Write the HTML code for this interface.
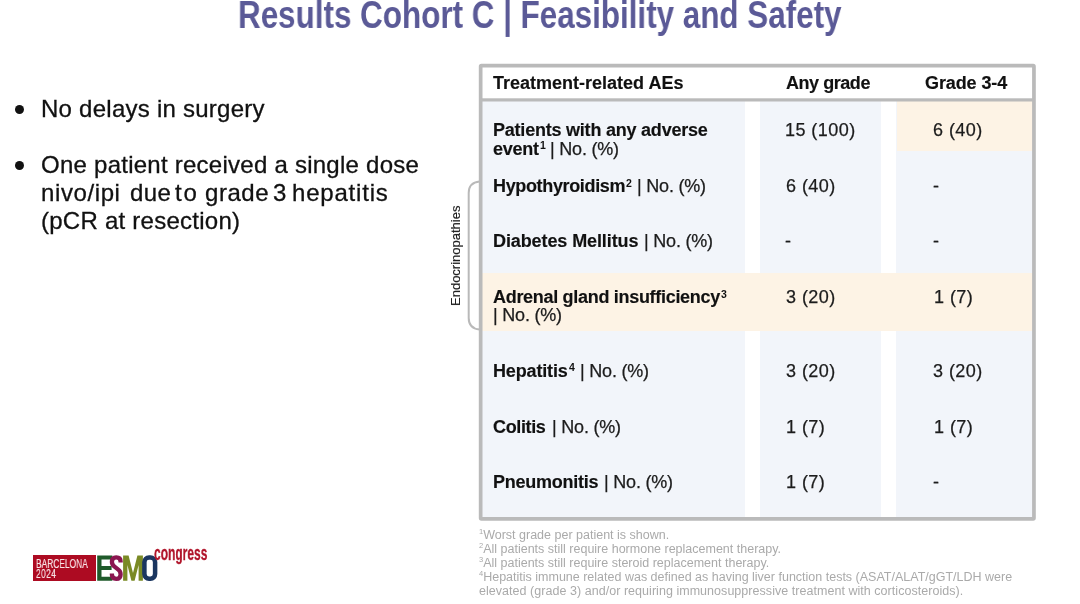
<!DOCTYPE html>
<html><head><meta charset="utf-8">
<style>
html,body{margin:0;padding:0;background:#fff;}
body{width:1080px;height:604px;position:relative;overflow:hidden;font-family:"Liberation Sans",sans-serif;}
.abs{position:absolute;}
.abs,.t,.s,.fn{will-change:transform;}
#title{left:238px;top:-5.7px;font-size:38px;font-weight:bold;color:#5b5a97;white-space:nowrap;transform-origin:0 0;transform:scaleX(0.826);}
.bul{font-size:24px;color:#111;-webkit-text-stroke:0.3px #111;line-height:28px;white-space:nowrap;letter-spacing:0.25px;}
.dot{width:9px;height:9px;border-radius:50%;background:#111;}
.c{position:absolute;background:#f2f5fa;}
.o{position:absolute;background:#fdf3e5;}
.t{position:absolute;font-size:18px;color:#1c1c1c;-webkit-text-stroke:0.25px #1c1c1c;white-space:nowrap;line-height:18px;}
.b{font-weight:bold;color:#111;-webkit-text-stroke:0.15px #111;}
.s{position:absolute;font-size:10.5px;font-weight:bold;color:#111;line-height:10px;}
.fn{position:absolute;left:479px;font-size:12.5px;color:#aaaaaa;white-space:nowrap;line-height:14px;margin-top:0.5px;}
.fn i{font-style:normal;font-size:7.5px;position:relative;top:-4.6px;}
</style></head><body>
<div id="title" class="abs">Results Cohort C | Feasibility and Safety</div>

<div class="abs dot" style="left:14.5px;top:105px"></div>
<div class="abs bul" style="left:40.5px;top:95.2px">No delays in surgery</div>
<div class="abs dot" style="left:14.5px;top:161px"></div>
<div class="abs bul" style="left:40.5px;top:151px">One patient received a single dose<br>&nbsp;<br>(pCR at resection)</div>
<div class="abs bul" style="left:40.6px;top:179px;letter-spacing:0.6px">nivo/ipi</div>
<div class="abs bul" style="left:130px;top:179px;letter-spacing:0.4px">due</div>
<div class="abs bul" style="left:175.2px;top:179px;letter-spacing:1.8px">to</div>
<div class="abs bul" style="left:205px;top:179px;letter-spacing:0.55px">grade</div>
<div class="abs bul" style="left:273.3px;top:179px">3</div>
<div class="abs bul" style="left:292.4px;top:179px;letter-spacing:0.8px">hepatitis</div>

<!-- table -->
<div class="c" style="left:481px;top:100px;width:264.4px;height:418px"></div>
<div class="c" style="left:760.2px;top:100px;width:120.6px;height:418px"></div>
<div class="c" style="left:896.4px;top:100px;width:137px;height:418px"></div>
<div class="o" style="left:897.3px;top:100px;width:137px;height:51.2px"></div>
<div class="o" style="left:481px;top:272.5px;width:552px;height:58.2px"></div>
<svg class="abs" style="left:0;top:0" width="1080" height="604" viewBox="0 0 1080 604">
<rect x="480.65" y="65.65" width="553.3" height="453.2" fill="none" stroke="#bababa" stroke-width="3.7" rx="0.8"/>
<rect x="481" y="98.3" width="553" height="3.2" fill="#bababa"/>
<path d="M479.5 181.5 Q468.7 182.5 468.7 193 L468.7 318 Q468.7 328.5 479.5 329.5" fill="none" stroke="#b9b9b9" stroke-width="2"/>
</svg>
<div class="t b" style="left:493.2px;top:74.20px;letter-spacing:0px;">Treatment-related AEs</div>
<div class="t b" style="left:786.2px;top:74.20px;letter-spacing:-0.45px;">Any grade</div>
<div class="t b" style="left:925.2px;top:74.20px;letter-spacing:-0.1px;">Grade 3-4</div>
<div class="t b" style="left:493px;top:121.00px;letter-spacing:-0.22px;">Patients with any adverse</div>
<div class="t b" style="left:492.8px;top:139.50px;letter-spacing:-0.25px;">event</div>
<div class="t " style="left:550.3px;top:139.50px;letter-spacing:-0.2px;">| No. (%)</div>
<div class="t " style="left:785.2px;top:121.00px;letter-spacing:0.45px;">15 (100)</div>
<div class="t " style="left:933.3px;top:121.00px;letter-spacing:0.45px;">6 (40)</div>
<div class="t b" style="left:493.1px;top:177.10px;letter-spacing:-0.35px;">Hypothyroidism</div>
<div class="t " style="left:637.3px;top:177.10px;letter-spacing:-0.2px;">| No. (%)</div>
<div class="t " style="left:786px;top:177.40px;letter-spacing:0.45px;">6 (40)</div>
<div class="t " style="left:933.2px;top:177.10px;">-</div>
<div class="t b" style="left:493.1px;top:232.20px;letter-spacing:-0.1px;">Diabetes Mellitus</div>
<div class="t " style="left:644.3px;top:232.20px;letter-spacing:-0.2px;">| No. (%)</div>
<div class="t " style="left:785.4px;top:232.20px;">-</div>
<div class="t " style="left:933.2px;top:232.20px;">-</div>
<div class="t b" style="left:493.0px;top:288.10px;letter-spacing:-0.3px;">Adrenal gland insufficiency</div>
<div class="t " style="left:493.40000000000003px;top:306.10px;letter-spacing:-0.2px;">| No. (%)</div>
<div class="t " style="left:786px;top:288.20px;letter-spacing:0.45px;">3 (20)</div>
<div class="t " style="left:933.5px;top:288.20px;letter-spacing:0.45px;">1 (7)</div>
<div class="t b" style="left:493.1px;top:361.80px;letter-spacing:-0.15px;">Hepatitis</div>
<div class="t " style="left:580.3px;top:361.80px;letter-spacing:-0.2px;">| No. (%)</div>
<div class="t " style="left:786px;top:361.80px;letter-spacing:0.45px;">3 (20)</div>
<div class="t " style="left:933.3px;top:361.80px;letter-spacing:0.45px;">3 (20)</div>
<div class="t b" style="left:493.2px;top:417.60px;letter-spacing:-0.37px;">Colitis</div>
<div class="t " style="left:551.6999999999999px;top:417.60px;letter-spacing:-0.2px;">| No. (%)</div>
<div class="t " style="left:785.5px;top:417.60px;letter-spacing:0.45px;">1 (7)</div>
<div class="t " style="left:933.5px;top:417.60px;letter-spacing:0.45px;">1 (7)</div>
<div class="t b" style="left:493.1px;top:473.20px;letter-spacing:-0.25px;">Pneumonitis</div>
<div class="t " style="left:604.0999999999999px;top:473.20px;letter-spacing:-0.2px;">| No. (%)</div>
<div class="t " style="left:785.5px;top:473.20px;letter-spacing:0.45px;">1 (7)</div>
<div class="t " style="left:933.2px;top:473.20px;">-</div>
<div class="s" style="left:539.9px;top:139.9px">1</div>
<div class="s" style="left:626.3px;top:177.5px">2</div>
<div class="s" style="left:721.3px;top:288.5px">3</div>
<div class="s" style="left:569.2px;top:362.2px">4</div>

<div class="abs" style="left:448.9px;top:305.5px;font-size:13px;color:#222;-webkit-text-stroke:0.2px #222;line-height:13px;transform-origin:0 0;transform:rotate(-90deg);white-space:nowrap;">Endocrinopathies</div>

<div class="fn" style="top:527px"><i>1</i>Worst grade per patient is shown.</div>
<div class="fn" style="top:541px"><i>2</i>All patients still require hormone replacement therapy.</div>
<div class="fn" style="top:555px"><i>3</i>All patients still require steroid replacement therapy.</div>
<div class="fn" style="top:569px"><i>4</i>Hepatitis immune related was defined as having liver function tests (ASAT/ALAT/gGT/LDH were</div>
<div class="fn" style="top:583px;letter-spacing:0.04px">elevated (grade 3) and/or requiring immunosuppressive treatment with corticosteroids).</div>

<!-- logo -->
<div class="abs" style="left:33px;top:555.3px;width:63px;height:25.6px;background:#ad0b22"></div>
<div class="abs" style="left:35.6px;top:558.9px;font-size:12px;line-height:10.7px;color:#f8e4e7;-webkit-text-stroke:0.2px #f8e4e7;transform-origin:0 0;transform:scaleX(0.70);white-space:nowrap">BARCELONA</div>
<div class="abs" style="left:35.6px;top:569.2px;font-size:12px;line-height:10.7px;color:#f8e4e7;-webkit-text-stroke:0.2px #f8e4e7;letter-spacing:0.6px;transform-origin:0 0;transform:scaleX(0.70);white-space:nowrap">2024</div>
<svg class="abs" style="left:90px;top:545px" width="80" height="45" viewBox="90 545 80 45">
<path d="M97.2 555.4 H112.4 V559.5 H101.5 V566 H111.6 V569.9 H101.5 V576.7 H112.4 V580.8 H97.2 Z" fill="#1f5a2a"/>
<path d="M142.9 555.4 V580.8 H138.6 V565 L134.6 580.8 H131.4 L127.4 565 V580.8 H123.1 V555.4 H128.6 L133 573 L137.4 555.4 Z" fill="#7a8a25"/>
<path d="M120.6 562.6 V561.6 Q120.6 557.4 116.25 557.4 Q111.9 557.4 111.9 561.8 Q111.9 564.6 114.2 566.4 L118.3 569.6 Q120.6 571.4 120.6 574.4 Q120.6 578.8 116.25 578.8 Q111.9 578.8 111.9 574.6 V573.4" fill="none" stroke="#8b1650" stroke-width="4.3"/>
<rect x="144.4" y="557.5" width="10.7" height="21.2" rx="4.6" fill="none" stroke="#1b3660" stroke-width="4.5"/>
</svg>
<div class="abs" style="left:154.4px;top:545.4px;font-size:19.3px;line-height:18px;font-weight:bold;color:#b0142a;-webkit-text-stroke:0.3px #b0142a;transform-origin:0 0;transform:scaleX(0.623);white-space:nowrap">congress</div>
</body></html>
